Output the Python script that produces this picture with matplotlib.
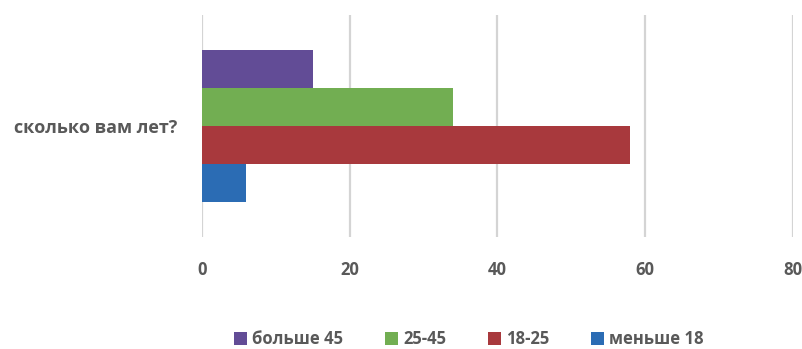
import numpy as np
import matplotlib
matplotlib.use("Agg")
import matplotlib.pyplot as plt
from matplotlib.patches import Patch

# данные
category = "сколько вам лет?"
series_names = ["больше 45", "25-45", "18-25", "меньше 18"]
series_values = [15, 34, 58, 6]
series_colors = ["#624C96", "#72AE52", "#A8393D", "#2B6CB4"]
x_ticks = [0, 20, 40, 60, 80]

plt.rcParams['font.family'] = ['Open Sans', 'DejaVu Sans']
text_color = "#595959"

fig = plt.figure(figsize=(8.03, 3.49), dpi=100)
ax = fig.add_axes([202 / 803, 1 - 237 / 349, (792.7 - 202) / 803, 222 / 349])

bar_h = 0.171
n = len(series_values)
offsets = (np.arange(n)[::-1] - (n - 1) / 2) * bar_h
for off, val, col in zip(offsets, series_values, series_colors):
    ax.barh(off, val, height=bar_h, color=col, zorder=3)

ax.set_xlim(0, 80)
ax.set_ylim(-0.5, 0.5)
ax.set_xticks(x_ticks)
ax.set_xticklabels([str(t) for t in x_ticks], fontsize=12, fontweight='bold', color=text_color)
ax.set_yticks([0])
ax.set_yticklabels([category], fontsize=13, fontweight='bold', color=text_color)
ax.tick_params(axis='both', length=0)
ax.tick_params(axis='x', pad=17)
ax.tick_params(axis='y', pad=18)
ax.grid(axis='x', color='#D4D4D4', linewidth=1.6, zorder=0)
for s in ax.spines.values():
    s.set_visible(False)

handles = [Patch(facecolor=c, edgecolor='none') for c in series_colors]
fig.legend(handles, series_names, loc='center', bbox_to_anchor=(0.584, 1 - 339 / 349),
           ncol=4, frameon=False, handlelength=0.8, handleheight=0.8, handletextpad=0.3,
           columnspacing=2.5, prop={'size': 12, 'weight': 'bold'}, labelcolor=text_color)

fig.savefig("out.png", dpi=100)
